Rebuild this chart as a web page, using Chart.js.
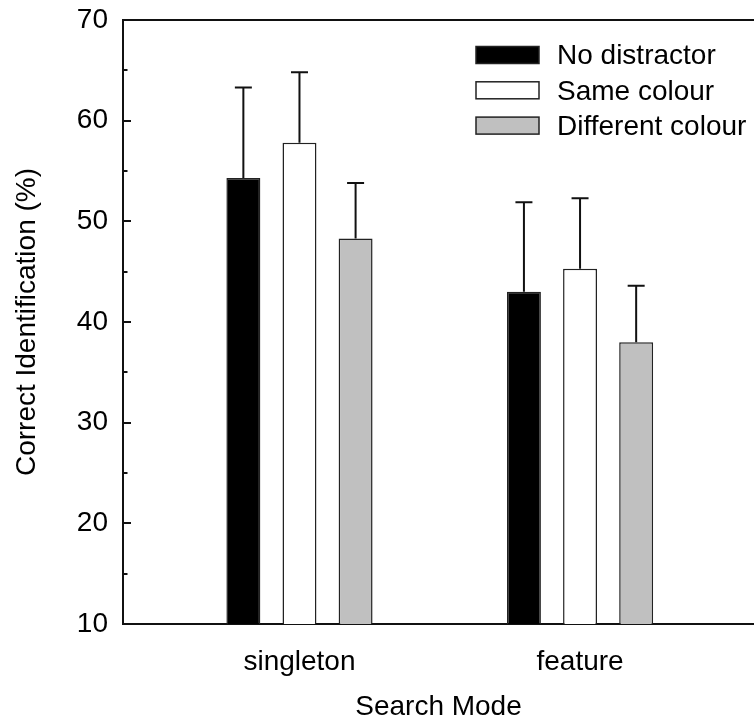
<!DOCTYPE html>
<html>
<head>
<meta charset="utf-8">
<script src="https://cdn.jsdelivr.net/npm/chart.js@4.4.1/dist/chart.umd.min.js"></script>
<style>
  html,body{margin:0;padding:0;background:#fff;}
  #wrap{width:754px;height:724px;}
</style>
</head>
<body>
<div id="wrap"><canvas id="c"></canvas></div>
<script>
/* ---------- data ---------- */
const groups       = ['singleton','feature'];
const seriesNames  = ['No distractor','Same colour','Different colour'];
const noDistractor = [54.3, 43.0];
const sameColour   = [57.8, 45.3];
const diffColour   = [48.3, 38.0];
// upper error (SE) for each bar
const noDistErr    = [9.0, 8.9];
const sameErr      = [7.0, 7.0];
const diffErr      = [5.5, 5.6];
const yTicks       = [10,20,30,40,50,60,70];

const FONT = '"Liberation Sans", Arial, sans-serif';
const FS   = 28;
const fills   = ['#000000','#ffffff','#c0c0c0'];
const values  = [noDistractor, sameColour, diffColour];
const errs    = [noDistErr, sameErr, diffErr];

/* ---------- plugins ---------- */
// upper-only error bars with caps
const errorBars = {
  id:'errorBars',
  afterDatasetsDraw(chart){
    const {ctx, scales:{y}} = chart;
    ctx.save();
    ctx.strokeStyle = '#111'; ctx.lineWidth = 2;
    chart.data.datasets.forEach((ds,di)=>{
      chart.getDatasetMeta(di).data.forEach((bar,i)=>{
        const top = y.getPixelForValue(ds.data[i].y + ds.err[i]);
        ctx.beginPath();
        ctx.moveTo(bar.x, bar.y); ctx.lineTo(bar.x, top);
        ctx.moveTo(bar.x-8.5, top); ctx.lineTo(bar.x+8.5, top);
        ctx.stroke();
      });
    });
    ctx.restore();
  }
};

// inward ticks on y axis (major + minor)
const inwardTicks = {
  id:'inwardTicks',
  afterDraw(chart){
    const {ctx, scales:{y}, chartArea} = chart;
    ctx.save();
    ctx.strokeStyle = '#111'; ctx.lineWidth = 2;
    for(let v = y.min + 5; v < y.max; v += 5){
      const py  = Math.round(y.getPixelForValue(v));
      const len = (v % 10 === 0) ? 8 : 4.5;
      ctx.beginPath();
      ctx.moveTo(chartArea.left, py); ctx.lineTo(chartArea.left + len, py);
      ctx.stroke();
    }
    ctx.restore();
  }
};

// legend inside plot, top right
const boxLegend = {
  id:'boxLegend',
  afterDraw(chart){
    const {ctx} = chart;
    ctx.save();
    ctx.font = FS + 'px ' + FONT;
    ctx.textBaseline = 'middle';
    chart.data.datasets.forEach((ds,i)=>{
      const cy = 55 + i*35.3;
      ctx.fillStyle = ds.backgroundColor;
      ctx.fillRect(476, cy-8.5, 63, 17);
      ctx.strokeStyle = '#222'; ctx.lineWidth = 1.5;
      ctx.strokeRect(476, cy-8.5, 63, 17);
      ctx.fillStyle = '#000';
      ctx.fillText(ds.label, 557, cy+1.5);
    });
    ctx.restore();
  }
};

/* ---------- chart ---------- */
new Chart(document.getElementById('c'),{
  type:'bar',
  data:{
    datasets: seriesNames.map((name,i)=>({
      label:name,
      data: groups.map((g,gi)=>({x:gi+1, y:values[i][gi]})),
      err: errs[i],
      backgroundColor: fills[i],
      borderColor:'#222',
      borderWidth:1.5,
      borderSkipped:'bottom',
      categoryPercentage:0.6,
      barPercentage:0.605
    }))
  },
  options:{
    responsive:true, maintainAspectRatio:false, animation:false,
    layout:{padding:0},
    plugins:{legend:{display:false}, tooltip:{enabled:false}},
    scales:{
      x:{
        type:'linear', position:'bottom', min:0.371, max:2.62, offset:false,
        afterBuildTicks: s => { s.ticks = [{value:1},{value:2}]; },
        afterFit: s => { s.height = 100; s.paddingLeft = 0; s.paddingRight = 0; },
        grid:{display:false, drawTicks:false},
        border:{display:true, color:'#111', width:2},
        ticks:{color:'#000', padding:21, font:{family:FONT, size:FS},
               callback: v => groups[v-1]},
        title:{display:true, text:'Search Mode', color:'#000',
               font:{family:FONT, size:FS}, padding:{top:0, bottom:0}}
      },
      x2:{
        type:'linear', position:'top', min:0, max:1, offset:false,
        afterFit: s => { s.height = 20; s.paddingLeft = 0; s.paddingRight = 0; },
        grid:{display:false, drawTicks:false},
        border:{display:true, color:'#111', width:2},
        ticks:{display:false}
      },
      y:{
        min:10, max:70,
        afterBuildTicks: s => { s.ticks = yTicks.map(v=>({value:v})); },
        afterFit: s => { s.width = 123; s.paddingTop = 0; s.paddingBottom = 0; },
        grid:{display:false, drawTicks:false},
        border:{display:true, color:'#111', width:2},
        ticks:{color:'#000', padding:15, font:{family:FONT, size:FS}},
        title:{display:true, text:'Correct Identification (%)', color:'#000',
               font:{family:FONT, size:FS}, padding:{top:10, bottom:0}}
      }
    }
  },
  plugins:[errorBars, inwardTicks, boxLegend]
});
</script>
</body>
</html>
